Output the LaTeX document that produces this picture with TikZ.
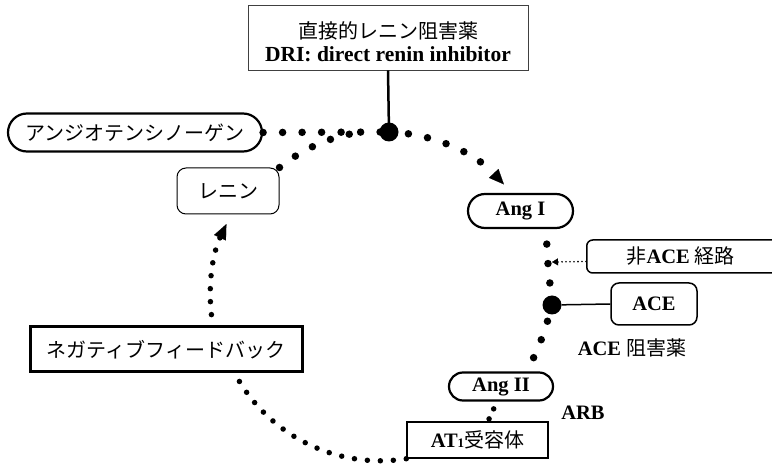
\documentclass[tikz,border=0pt]{standalone}
\usepackage{fontspec}
\setmainfont{Liberation Serif}
\newfontfamily\jp{Noto Sans CJK JP}
\usetikzlibrary{arrows.meta}
\newcommand\latb[1]{{\rmfamily\bfseries\fontsize{20.5}{24}\selectfont #1}}
\newcommand\jpt[1]{{\jp\fontsize{20}{24}\selectfont #1}}
\begin{document}
\begin{tikzpicture}[x=1pt,y=1pt,
  pill/.style={draw, line width=2.2pt, inner sep=0pt},
  bigdots/.style={line width=7.5pt, line cap=round, dash pattern=on 0pt off 19.5pt},
  smalldots/.style={line width=5.5pt, line cap=round, dash pattern=on 0pt off 13pt},
  finedots/.style={line width=1.8pt, line cap=round, dash pattern=on 0pt off 4pt},
  arrowend/.style={-{Triangle[length=15pt,width=13pt,line width=0.1pt]}},
  blob/.style={circle, fill, inner sep=0pt, minimum size=19pt},
]
\useasboundingbox (0,0) rectangle (772,469);
\clip (0,0) rectangle (772,469);

% nodes
\node[draw=black!75, line width=0.9pt, minimum width=280pt, minimum height=65pt,
      inner sep=0pt, align=center, font=\fontsize{20}{26}\selectfont] (dri) at (388,431.5)
  {\rule{0pt}{26pt}\jpt{直接的レニン阻害薬}\\[-3pt]{\rmfamily\bfseries\fontsize{21.5}{26}\selectfont DRI: direct renin inhibitor}};
\node[pill, rounded corners=19pt, minimum width=254pt, minimum height=38pt] (agt) at (135,336.5) {\jpt{アンジオテンシノーゲン}};
\node[draw, line width=1pt, rounded corners=9pt, minimum width=102pt, minimum height=46pt, inner sep=0pt] (renin) at (228,278) {\jpt{レニン}};
\node[pill, rounded corners=17pt, minimum width=105pt, minimum height=34pt] (angI) at (520.5,258) {\latb{Ang I}};
\node[draw, line width=1.5pt, rounded corners=6pt, minimum width=214pt, minimum height=33pt, inner sep=0pt, anchor=west] (nonace) at (586,212.5)
  {\jpt{非}\latb{ACE}\hspace{5pt}\jpt{経路}\hspace*{26pt}};
\node[draw, line width=1.5pt, rounded corners=8pt, minimum width=86pt, minimum height=42pt, inner sep=0pt] (ace) at (654,165) {\latb{ACE}};
\node[inner sep=0pt] (aceinh) at (632,121) {\latb{ACE}\hspace{5pt}\jpt{阻害薬}};
\node[pill, rounded corners=14pt, minimum width=104pt, minimum height=28pt] (angII) at (501,82.5) {\latb{Ang II}};
\node[inner sep=0pt] (arb) at (583,56) {\latb{ARB}};
\node[draw, line width=1.5pt, minimum width=141pt, minimum height=36pt, inner sep=0pt] (at1) at (477.5,29)
  {\latb{AT{\fontsize{13}{13}\selectfont 1}}\jpt{受容体}};
\node[draw, line width=3pt, minimum width=272pt, minimum height=45pt, inner sep=0pt] (negfb) at (166,119.5) {\jpt{ネガティブフィードバック}};
\node[blob] (big1) at (389,337) {};
\node[blob] (big2) at (552,164) {};
\coordinate (e2) at (533,110);
\coordinate (nae) at (552,207);

% connectors
\draw[line width=2.5pt] (dri.south) -- (big1.center);
\draw[bigdots] (agt.east) -- (big1.center);
\draw[bigdots] (renin.north east) arc[start angle=129, end angle=97, radius=166];
\draw[bigdots, arrowend] (big1.center) arc[start angle=88, end angle=43, radius=165];
\draw[bigdots, dash phase=4.5pt] ([xshift=26pt]angI.south) to[out=-90,in=95] (big2.center) to[out=-105,in=65] (e2);
\draw[smalldots, dash pattern=on 0pt off 11pt, dash phase=3pt] ([xshift=-4pt]angII.south) -- ([xshift=10.5pt]at1.north);
\draw[smalldots] (at1.south west) arc[start angle=-81, end angle=-150, radius=165];
\draw[smalldots, arrowend, dash phase=2pt] ([xshift=47pt]negfb.north) arc[start angle=190, end angle=155, radius=170];
\draw[finedots, -{Triangle[length=6pt,width=7pt,line width=0.1pt]}] ([yshift=-5pt]nonace.west) -- (nae);
\draw[line width=1.5pt] (big2) -- (ace.west);
\end{tikzpicture}
\end{document}
